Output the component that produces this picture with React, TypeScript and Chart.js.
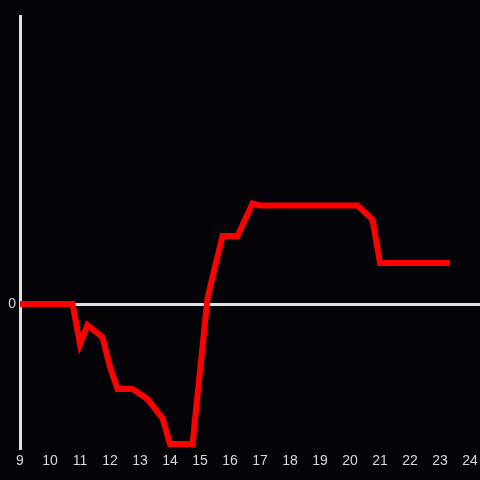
import React, { useEffect, useRef } from "react";
import { Chart, registerables } from "chart.js";

Chart.register(...registerables);

const hours = [9, 10.75, 11.0, 11.25, 11.75, 12.0, 12.25, 12.75, 13.25, 13.75, 14.0, 14.75, 15.25, 15.75, 16.25, 16.75, 17.0, 20.25, 20.75, 21.0, 23.33];
const values = [0, 0, -13.9, -7.3, -11.5, -21.9, -29.5, -29.5, -33.0, -39.6, -48.6, -48.6, 2.1, 23.6, 23.6, 34.9, 34.2, 34.2, 29.3, 14.2, 14.2];
const xTickLabels = [9, 10, 11, 12, 13, 14, 15, 16, 17, 18, 19, 20, 21, 22, 23, 24];
const yTickLabels = [0];

export default function App() {
  const ref = useRef<HTMLCanvasElement | null>(null);
  useEffect(() => {
    document.body.style.margin = "0";
    document.body.style.background = "#040307";
    const ctx = ref.current!;
    const chart = new Chart(ctx, {
      type: "line",
      data: {
        datasets: [
          {
            data: hours.map((h, i) => ({ x: h, y: values[i] })),
            borderColor: "#ff0000",
            borderWidth: 6,
            pointRadius: 0,
            tension: 0,
            fill: false,
          },
        ],
      },
      options: {
        animation: false,
        responsive: false,
        maintainAspectRatio: false,
        layout: { padding: { top: 16, right: 0, left: 0, bottom: 0 } },
        plugins: { legend: { display: false }, tooltip: { enabled: false } },
        scales: {
          x: {
            type: "linear",
            min: 9,
            max: 24.333,
            afterBuildTicks: (s: any) => {
              s.ticks = xTickLabels.map((v) => ({ value: v }));
            },
            afterFit: (s: any) => {
              s.height = 32;
              s.paddingLeft = 0;
              s.paddingRight = 0;
            },
            grid: { display: false, drawTicks: false },
            border: { display: false },
            ticks: {
              color: "#d8d8d8",
              font: { size: 14 },
              padding: 5,
              maxRotation: 0,
              autoSkip: false,
            },
          },
          y: {
            type: "linear",
            min: -50,
            max: 100,
            afterBuildTicks: (s: any) => {
              s.ticks = yTickLabels.map((v) => ({ value: v }));
            },
            afterFit: (s: any) => {
              s.width = 20;
              s.paddingTop = 0;
              s.paddingBottom = 0;
            },
            grid: { color: "#e0e0e0", lineWidth: 3, drawTicks: false },
            border: { display: true, color: "#e0e0e0", width: 3 },
            ticks: {
              color: "#d8d8d8",
              font: { size: 14 },
              padding: 4,
            },
          },
        },
      },
    });
    return () => chart.destroy();
  }, []);
  return (
    <div style={{ width: 480, height: 480, background: "#040307" }}>
      <canvas ref={ref} width={480} height={480} style={{ display: "block" }} />
    </div>
  );
}
